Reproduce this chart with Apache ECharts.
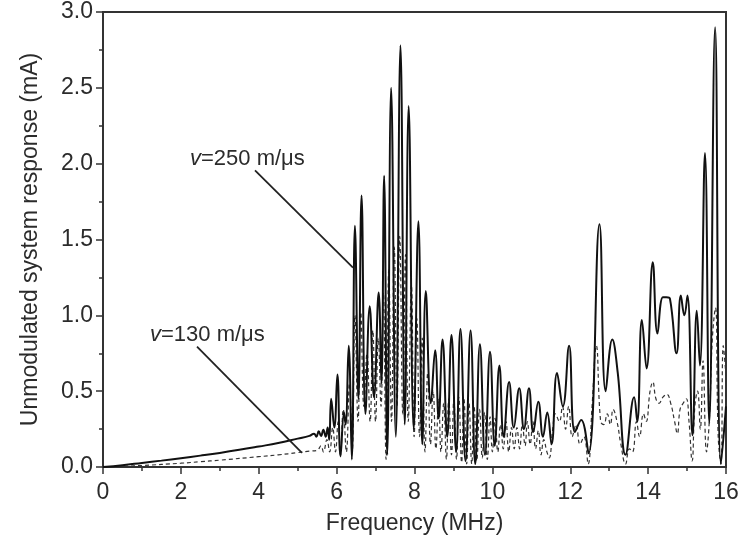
<!DOCTYPE html>
<html>
<head>
<meta charset="utf-8">
<script src="https://cdn.jsdelivr.net/npm/echarts@6/dist/echarts.min.js"></script>
<style>
html,body{margin:0;padding:0;background:#fff;}
#chart{width:746px;height:537px;}
</style>
</head>
<body>
<div id="chart"></div>
<script>
// v = 250 m/us (solid)
const v250Freq = [0,0.5,1,1.5,2,2.5,3,3.5,4,4.5,5,5.3,5.42,5.48,5.54,5.6,5.66,5.72,5.77,5.81,5.86,5.94,6.02,6.1,6.19,6.23,6.31,6.39,6.47,6.56,6.64,6.74,6.85,6.96,7.08,7.15,7.22,7.3,7.4,7.52,7.64,7.75,7.85,7.98,8.1,8.2,8.29,8.42,8.53,8.62,8.72,8.84,8.95,9.07,9.18,9.31,9.44,9.56,9.68,9.81,9.94,10.06,10.18,10.29,10.43,10.55,10.69,10.81,10.94,11.05,11.18,11.3,11.41,11.52,11.66,11.81,11.97,12.12,12.28,12.47,12.75,12.91,13.08,13.22,13.42,13.64,13.72,13.84,13.96,14.12,14.24,14.38,14.47,14.56,14.73,14.84,14.93,15.01,15.14,15.25,15.33,15.46,15.57,15.72,15.87,16];
const v250Resp = [0,0.012,0.027,0.042,0.058,0.075,0.093,0.113,0.135,0.158,0.187,0.205,0.22,0.2,0.235,0.205,0.245,0.2,0.26,0.18,0.45,0.26,0.61,0.07,0.36,0.28,0.8,0.05,1.59,0.45,1.79,0.35,1.06,0.46,1.15,0.55,1.92,0.08,2.5,0.2,2.78,0.28,2.38,0.25,1.62,0.15,1.16,0.42,0.77,0.32,0.84,0.2,0.87,0.1,0.91,0.04,0.9,0.02,0.81,0.08,0.76,0.14,0.67,0.2,0.56,0.26,0.52,0.25,0.52,0.23,0.43,0.2,0.36,0.15,0.62,0.4,0.8,0.23,0.31,0.09,1.6,0.5,0.84,0.62,0.08,0.46,0.3,0.97,0.65,1.35,0.88,1.12,1.12,1.11,0.75,1.13,1.0,1.13,0.21,1.03,0.67,2.07,0.29,2.9,0.02,0.4];

// v = 130 m/us (dashed)
const v130Freq = [0,1,2,2.5,3,4,4.5,5,5.3,5.5,5.6,5.66,5.75,5.82,5.9,5.97,6.04,6.1,6.17,6.25,6.33,6.4,6.47,6.55,6.62,6.7,6.78,6.86,6.93,7.0,7.07,7.14,7.2,7.27,7.34,7.41,7.48,7.55,7.62,7.7,7.77,7.84,7.92,7.99,8.06,8.13,8.2,8.27,8.34,8.41,8.48,8.55,8.62,8.68,8.75,8.82,8.88,8.95,9.01,9.08,9.14,9.21,9.27,9.34,9.4,9.47,9.53,9.6,9.67,9.74,9.8,9.87,9.94,10.0,10.07,10.14,10.21,10.28,10.35,10.42,10.49,10.56,10.63,10.7,10.77,10.84,10.9,10.97,11.04,11.11,11.18,11.25,11.32,11.4,11.46,11.55,11.62,11.72,11.8,11.88,11.96,12.05,12.15,12.25,12.35,12.46,12.56,12.67,12.78,12.86,12.95,13.03,13.1,13.2,13.3,13.42,13.52,13.6,13.7,13.78,13.88,13.95,14.05,14.12,14.2,14.28,14.38,14.48,14.58,14.68,14.75,14.82,14.9,14.98,15.05,15.13,15.2,15.27,15.34,15.41,15.5,15.57,15.65,15.73,15.8,15.87,15.93,16];
const v130Resp = [0,0.01,0.025,0.035,0.045,0.068,0.08,0.095,0.105,0.11,0.14,0.1,0.18,0.1,0.26,0.1,0.3,0.08,0.38,0.1,0.55,0.1,1.0,0.3,1.02,0.4,0.75,0.3,0.9,0.3,0.85,0.4,1.15,0.05,1.3,0.3,1.45,0.4,1.52,0.35,1.4,0.3,1.2,0.2,0.98,0.2,0.85,0.1,0.62,0.15,0.5,0.12,0.45,0.1,0.42,0.05,0.45,0.08,0.44,0.05,0.46,0.03,0.45,0.02,0.42,0.02,0.4,0.04,0.38,0.06,0.36,0.05,0.33,0.1,0.32,0.1,0.28,0.12,0.3,0.1,0.26,0.12,0.26,0.12,0.28,0.14,0.3,0.15,0.3,0.12,0.24,0.08,0.18,0.1,0.06,0.25,0.35,0.3,0.4,0.25,0.4,0.2,0.28,0.15,0.2,0.02,0.4,0.8,0.3,0.28,0.35,0.28,0.38,0.3,0.15,0.02,0.12,0.1,0.3,0.2,0.35,0.3,0.5,0.56,0.45,0.42,0.46,0.48,0.42,0.3,0.22,0.38,0.42,0.45,0.3,0.04,0.4,0.5,0.25,0.7,0.1,0.3,0.85,1.05,0.2,0.02,0.8,0.6];

const xTicks = [0,2,4,6,8,10,12,14,16];
const yTicks = [0,0.5,1.0,1.5,2.0,2.5,3.0];

const zip = (a, b) => a.map((v, i) => [v, b[i]]);

const FONT = '"Liberation Sans", Arial, Helvetica, sans-serif';
const TXT = '#2b2b2b';
const FS = 23;

const chart = echarts.init(document.getElementById('chart'), null, {renderer: 'canvas'});

const option = {
  animation: false,
  backgroundColor: '#fff',
  grid: {left: 103, right: 20, top: 12, bottom: 70, containLabel: false, outerBoundsMode: 'none',
         show: true, borderColor: '#333', borderWidth: 2, backgroundColor: 'transparent'},
  xAxis: {
    type: 'value', min: xTicks[0], max: xTicks[xTicks.length - 1], interval: 2,
    name: 'Frequency (MHz)', nameLocation: 'middle', nameGap: 45,
    nameTextStyle: {fontFamily: FONT, fontSize: FS, color: TXT},
    axisLine: {show: true, lineStyle: {color: '#333', width: 2}},
    axisTick: {show: true, inside: false, length: 7, lineStyle: {color: '#333', width: 1.5}},
    minorTick: {show: true, splitNumber: 2, length: 4, lineStyle: {color: '#333', width: 1.5}},
    splitLine: {show: false},
    axisLabel: {fontFamily: FONT, fontSize: FS, color: TXT, margin: 14}
  },
  yAxis: {
    type: 'value', min: yTicks[0], max: yTicks[yTicks.length - 1], interval: 0.5,
    name: 'Unmodulated system response (mA)', nameLocation: 'middle', nameGap: 61,
    nameTextStyle: {fontFamily: FONT, fontSize: FS, color: TXT},
    axisLine: {show: true, lineStyle: {color: '#333', width: 2}},
    axisTick: {show: true, inside: false, length: 7, lineStyle: {color: '#333', width: 1.5}},
    minorTick: {show: true, splitNumber: 2, length: 4, lineStyle: {color: '#333', width: 1.5}},
    splitLine: {show: false},
    axisLabel: {fontFamily: FONT, fontSize: FS, color: TXT, margin: 10, formatter: v => v.toFixed(1)}
  },
  series: [
    {
      name: 'v=130', type: 'line', data: zip(v130Freq, v130Resp), showSymbol: false, smooth: 0.45,
      lineStyle: {color: '#333', width: 1.2, type: [4, 3]}, z: 2
    },
    {
      name: 'v=250', type: 'line', data: zip(v250Freq, v250Resp), showSymbol: false, smooth: 0.45,
      lineStyle: {color: '#111', width: 2}, z: 3
    }
  ]
};
chart.setOption(option);

// annotations (data coordinates)
const notes = [
  {label: '250', at: [2.234, 2.029], from: [3.904, 1.956], to: [6.42, 1.315]},
  {label: '130', at: [1.207, 0.872], from: [2.414, 0.793], to: [5.11, 0.0925]}
];
const graphics = [];
notes.forEach(n => {
  const p = chart.convertToPixel({gridIndex: 0}, n.at);
  const a = chart.convertToPixel({gridIndex: 0}, n.from);
  const b = chart.convertToPixel({gridIndex: 0}, n.to);
  graphics.push({
    type: 'text', x: p[0], y: p[1], z: 10,
    style: {
      text: '{i|v}=' + n.label + ' m/\u03bcs',
      font: '22px ' + FONT, fill: TXT, verticalAlign: 'middle', align: 'left',
      rich: {i: {fontStyle: 'italic', fontFamily: FONT, fontSize: 22, fill: TXT, color: TXT}}
    }
  });
  graphics.push({
    type: 'line', z: 10,
    shape: {x1: a[0], y1: a[1], x2: b[0], y2: b[1]},
    style: {stroke: '#222', lineWidth: 1.8}
  });
});
chart.setOption({graphic: graphics});
</script>
</body>
</html>
